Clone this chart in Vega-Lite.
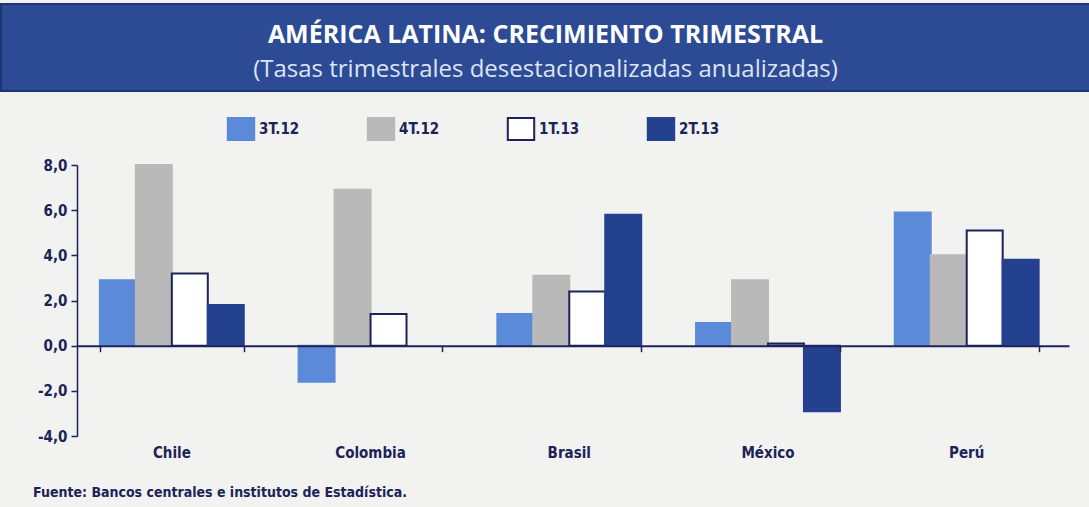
{
  "$schema": "https://vega.github.io/schema/vega-lite/v6.json",
  "background": "#f2f2f0",
  "padding": {"left": 0, "right": 0, "top": 3, "bottom": 12},
  "spacing": 66,
  "config": {
    "view": {"stroke": null},
    "axis": {"labelFont": "DejaVu Sans Condensed", "labelColor": "#1c2358", "domainColor": "#1c2358", "tickColor": "#1c2358", "labelFontWeight": "bold"}
  },
  "title": {
    "text": "Fuente: Bancos centrales e institutos de Estadística.",
    "orient": "bottom",
    "anchor": "start",
    "dx": 33,
    "offset": 26,
    "font": "DejaVu Sans Condensed",
    "fontSize": 14,
    "fontWeight": "bold",
    "color": "#1c2358"
  },
  "vconcat": [
    {
      "width": 1089,
      "height": 87,
      "view": {"fill": "#2d4b94", "stroke": "#1f3470", "strokeWidth": 2},
      "data": {"values": [
        {"line": "t", "text": "AMÉRICA LATINA: CRECIMIENTO TRIMESTRAL"},
        {"line": "s", "text": "(Tasas trimestrales desestacionalizadas anualizadas)"}
      ]},
      "layer": [
        {
          "transform": [{"filter": "datum.line === 't'"}],
          "mark": {"type": "text", "font": "Open Sans", "fontWeight": "bold", "fontSize": 25, "color": "#ffffff", "baseline": "middle"},
          "encoding": {
            "text": {"field": "text"},
            "y": {"field": "line", "type": "nominal", "scale": {"type": "point", "domain": ["t", "s"], "padding": 0.72, "align": 0.6}, "axis": null}
          }
        },
        {
          "transform": [{"filter": "datum.line === 's'"}],
          "mark": {"type": "text", "font": "Open Sans", "fontSize": 24, "color": "#dce4f5", "baseline": "middle"},
          "encoding": {
            "text": {"field": "text"},
            "y": {"field": "line", "type": "nominal", "scale": {"type": "point", "domain": ["t", "s"], "padding": 0.72, "align": 0.6}, "axis": null}
          }
        }
      ]
    },
    {
      "width": 1089,
      "height": 271,
      "data": {"values": [
        {"pais": "Chile", "serie": "3T.12", "valor": 2.9},
        {"pais": "Chile", "serie": "4T.12", "valor": 8.0},
        {"pais": "Chile", "serie": "1T.13", "valor": 3.2},
        {"pais": "Chile", "serie": "2T.13", "valor": 1.8},
        {"pais": "Colombia", "serie": "3T.12", "valor": -1.6},
        {"pais": "Colombia", "serie": "4T.12", "valor": 6.9},
        {"pais": "Colombia", "serie": "1T.13", "valor": 1.4},
        {"pais": "Brasil", "serie": "3T.12", "valor": 1.4},
        {"pais": "Brasil", "serie": "4T.12", "valor": 3.1},
        {"pais": "Brasil", "serie": "1T.13", "valor": 2.4},
        {"pais": "Brasil", "serie": "2T.13", "valor": 5.8},
        {"pais": "México", "serie": "3T.12", "valor": 1.0},
        {"pais": "México", "serie": "4T.12", "valor": 2.9},
        {"pais": "México", "serie": "1T.13", "valor": 0.1},
        {"pais": "México", "serie": "2T.13", "valor": -2.9},
        {"pais": "Perú", "serie": "3T.12", "valor": 5.9},
        {"pais": "Perú", "serie": "4T.12", "valor": 4.0},
        {"pais": "Perú", "serie": "1T.13", "valor": 5.1},
        {"pais": "Perú", "serie": "2T.13", "valor": 3.8}
      ]},
      "resolve": {"axis": {"x": "independent"}},
      "layer": [
        {
          "mark": {"type": "bar", "strokeWidth": 2},
          "encoding": {
            "x": {
              "field": "pais", "type": "nominal",
              "sort": ["Chile", "Colombia", "Brasil", "México", "Perú"],
              "scale": {"rangeMin": 76, "rangeMax": 1068, "paddingInner": 0.276, "paddingOuter": 0.134, "align": 0.43},
              "axis": {"orient": "bottom", "title": null, "domain": false, "ticks": false, "labelAngle": 0, "labelPadding": 9, "labelFontSize": 15}
            },
            "xOffset": {"field": "serie", "type": "nominal", "sort": ["3T.12", "4T.12", "1T.13", "2T.13"], "scale": {"paddingInner": 0, "paddingOuter": 0}},
            "y": {
              "field": "valor", "type": "quantitative",
              "scale": {"domain": [-4, 8], "nice": false},
              "axis": {"offset": -76, "title": null, "grid": false, "values": [-4, -2, 0, 2, 4, 6, 8], "labelExpr": "replace(replace(format(datum.value, '.1f'), '.', ','), '\u2212', '-')", "tickSize": 6, "labelPadding": 4, "labelFontSize": 15, "domainWidth": 1.5, "tickWidth": 1.5}
            },
            "fill": {
              "field": "serie", "type": "nominal",
              "scale": {"domain": ["3T.12", "4T.12", "1T.13", "2T.13"], "range": ["#5b8ad8", "#b9b9b9", "#ffffff", "#24418f"]},
              "legend": {
                "orient": "none", "legendX": 228, "legendY": 113, "direction": "horizontal", "columns": 4,
                "gridAlign": "all", "columnPadding": 63, "title": null, "padding": 0,
                "symbolType": "M-1.2,-1H1.2V1H-1.2Z", "symbolSize": 484, "symbolStrokeWidth": 2,
                "labelFont": "DejaVu Sans Condensed", "labelFontSize": 15, "labelFontWeight": "bold", "labelColor": "#1c2358", "labelOffset": 6
              }
            },
            "stroke": {
              "field": "serie", "type": "nominal",
              "scale": {"domain": ["3T.12", "4T.12", "1T.13", "2T.13"], "range": ["#5b8ad8", "#b9b9b9", "#1c2358", "#24418f"]},
              "legend": {
                "orient": "none", "legendX": 228, "legendY": 113, "direction": "horizontal", "columns": 4,
                "gridAlign": "all", "columnPadding": 63, "title": null, "padding": 0,
                "symbolType": "M-1.2,-1H1.2V1H-1.2Z", "symbolSize": 484, "symbolStrokeWidth": 2,
                "labelFont": "DejaVu Sans Condensed", "labelFontSize": 15, "labelFontWeight": "bold", "labelColor": "#1c2358", "labelOffset": 6
              }
            }
          }
        },
        {
          "mark": {"type": "point", "opacity": 0},
          "encoding": {
            "x": {
              "field": "pais", "type": "nominal",
              "sort": ["Chile", "Colombia", "Brasil", "México", "Perú"],
              "axis": {"orient": "top", "offset": -180.67, "title": null, "labels": false, "ticks": true, "tickBand": "extent", "tickSize": -6, "domainWidth": 2, "tickWidth": 1.5, "zindex": 1}
            },
            "y": {"datum": 0, "type": "quantitative"}
          }
        }
      ]
    }
  ]
}
